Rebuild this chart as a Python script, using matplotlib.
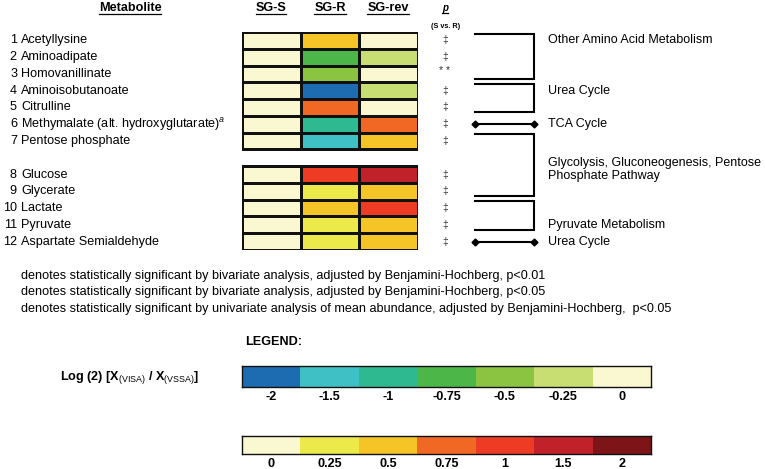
import numpy as np
import matplotlib
matplotlib.use("Agg")
import matplotlib.pyplot as plt
from matplotlib.colors import ListedColormap, BoundaryNorm

plt.rcParams['font.family'] = ['Liberation Sans', 'DejaVu Sans']
plt.rcParams['mathtext.fontset'] = 'custom'
plt.rcParams['mathtext.rm'] = 'Liberation Sans'
plt.rcParams['mathtext.bf'] = 'Liberation Sans:bold'
plt.rcParams['mathtext.it'] = 'Liberation Sans:italic'

# ---- data ----
metabolites = ["Acetyllysine", "Aminoadipate", "Homovanillinate", "Aminoisobutanoate",
               "Citrulline", "Methymalate (alt. hydroxyglutarate)$^{a}$", "Pentose phosphate",
               "Glucose", "Glycerate", "Lactate", "Pyruvate", "Aspartate Semialdehyde"]
columns = ["SG-S", "SG-R", "SG-rev"]
sg_s = [0, 0, 0, 0, 0, 0, 0, 0, 0, 0, 0, 0]
sg_r = [0.5, -0.75, -0.5, -2, 0.75, -1, -1.5, 1, 0.25, 0.5, 0.25, 0.25]
sg_rev = [0, -0.25, 0, -0.25, 0, 0.75, 0.5, 1.5, 0.5, 1, 0.5, 0.5]
p_marks = ["‡", "‡", "**", "‡", "‡", "‡", "‡", "‡", "‡", "‡", "‡", "‡"]
blocks = [(1, 7), (8, 12)]   # metabolites drawn as two separate blocks

pathways = ["Other Amino Acid Metabolism", "Urea Cycle", "TCA Cycle",
            "Glycolysis, Gluconeogenesis, Pentose\nPhosphate Pathway",
            "Pyruvate Metabolism", "Urea Cycle"]
pathway_first = [1, 4, 6, 7, 10, 12]
pathway_last = [3, 5, 6, 9, 11, 12]

levels = [-2, -1.5, -1, -0.75, -0.5, -0.25, 0, 0.25, 0.5, 0.75, 1, 1.5, 2]
level_colors = ["#1d6cb1", "#3ec0c4", "#2eb991", "#4cb648", "#8bc440", "#c8de73",
                "#faf8d0", "#ece94a", "#f5c427", "#f16824", "#ee3b24", "#c12129", "#7d1518"]
neg_levels = [-2, -1.5, -1, -0.75, -0.5, -0.25, 0]
pos_levels = [0, 0.25, 0.5, 0.75, 1, 1.5, 2]

footnotes = [
    "denotes statistically significant by bivariate analysis, adjusted by Benjamini-Hochberg, p<0.01",
    "denotes statistically significant by bivariate analysis, adjusted by Benjamini-Hochberg, p<0.05",
    "denotes statistically significant by univariate analysis of mean abundance, adjusted by Benjamini-Hochberg,  p<0.05",
]

# ---- figure ----
W, H = 765, 469
fig = plt.figure(figsize=(W / 100, H / 100), dpi=100)

def px_axes(x0, y0, x1, y1):
    return fig.add_axes([x0 / W, 1 - y1 / H, (x1 - x0) / W, (y1 - y0) / H])

ax_px = px_axes(0, 0, W, H)
ax_px.set_xlim(0, W)
ax_px.set_ylim(H, 0)
ax_px.axis('off')

cmap = ListedColormap(level_colors)
bounds = [levels[0] - 0.5] + [(a + b) / 2 for a, b in zip(levels[:-1], levels[1:])] + [levels[-1] + 0.5]
norm = BoundaryNorm(bounds, cmap.N)

# row positions, with one empty row between the blocks
n = len(metabolites)
row_pos = [i if i < 7 else i + 1 for i in range(n)]
n_rows = n + 1
values = np.array([sg_s, sg_r, sg_rev], dtype=float).T

heat_top, heat_bot = 32, 250
fs = 9.1
ax_h = px_axes(242, heat_top, 418, heat_bot)
for a, b in blocks:
    y_edges = np.arange(row_pos[a - 1], row_pos[b - 1] + 2)
    ax_h.pcolormesh(np.arange(4), y_edges, values[a - 1:b], cmap=cmap, norm=norm,
                    edgecolors='#111111', linewidth=0.9)
ax_h.set_xlim(0, 3)
ax_h.set_ylim(n_rows, 0)
ax_h.axis('off')

# left labels
ax_l = px_axes(0, heat_top, 242, heat_bot)
ax_l.set_xlim(0, 242)
ax_l.set_ylim(n_rows, 0)
ax_l.axis('off')
for i, name in enumerate(metabolites):
    y = row_pos[i] + 0.5
    ax_l.text(17, y, str(i + 1), ha='right', va='center', fontsize=fs)
    ax_l.text(21, y, name, ha='left', va='center', fontsize=fs)

# right side: p marks and pathway brackets
ax_r = px_axes(420, heat_top, W, heat_bot)
ax_r.set_xlim(420, W)
ax_r.set_ylim(n_rows, 0)
ax_r.axis('off')
for i, m in enumerate(p_marks):
    if m == "**":
        ax_r.text(445, row_pos[i] + 0.35, "* *", ha='center', va='center', fontsize=7.5, color='#333333')
    else:
        ax_r.text(445, row_pos[i] + 0.5, m, ha='center', va='center', fontsize=7.5, color='#333333')

bx0, bx1 = 475, 534
label_pos = [0.5, 3.5, 5.5, 8.2, 11.5, 12.5]
for name, a, b, ly in zip(pathways, pathway_first, pathway_last, label_pos):
    ra, rb = row_pos[a - 1], row_pos[b - 1]
    if a == b:
        yc = ra + 0.5
        ax_r.plot([bx0, bx1], [yc, yc], color='black', lw=1.5,
                  marker='D', markersize=3.5, solid_capstyle='butt')
    else:
        yt, yb = ra + 0.1, rb + 1 - 0.2
        ax_r.plot([bx0, bx1, bx1, bx0], [yt, yt, yb, yb], color='black', lw=1.5,
                  solid_joinstyle='miter')
    ax_r.text(548, ly, name, ha='left', va='center', fontsize=fs - 0.1, linespacing=1.15)

# headers
headers = []
headers.append(ax_px.text(130, 8, "Metabolite", ha='center', va='center', fontsize=fs, fontweight='bold'))
for x, c in zip([271, 330, 388], columns):
    headers.append(ax_px.text(x, 8, c, ha='center', va='center', fontsize=fs, fontweight='bold'))
headers.append(ax_px.text(445, 8, "p", ha='center', va='center', fontsize=7, fontweight='bold', style='italic'))
ax_px.text(446, 26, "(S vs. R)", ha='center', va='center', fontsize=5.2, fontweight='bold')

# footnotes
for k, t in enumerate(footnotes):
    ax_px.text(21, 276 + k * 16.3, t, ha='left', va='center', fontsize=fs)

# legend
ax_px.text(245, 342, "LEGEND:", ha='left', va='center', fontsize=fs, fontweight='bold')
ax_px.text(130, 378, r"Log (2) [X$_{\mathrm{(VISA)}}$ / X$_{\mathrm{(VSSA)}}$]",
           ha='center', va='center', fontsize=fs, fontweight='bold')

for vals, (y0, y1) in [(neg_levels, (366, 387)), (pos_levels, (436, 454))]:
    ax_c = px_axes(242, y0, 651, y1)
    ax_c.pcolormesh(np.array([vals], dtype=float), cmap=cmap, norm=norm)
    ax_c.set_xlim(0, len(vals))
    ax_c.set_ylim(0, 1)
    ax_c.set_yticks([])
    ax_c.set_xticks(np.arange(len(vals)) + 0.5)
    ax_c.set_xticklabels([f"{v:g}" for v in vals], fontsize=fs, fontweight='bold')
    ax_c.tick_params(axis='x', length=0, pad=3)
    for s in ax_c.spines.values():
        s.set_linewidth(1.0)
        s.set_color('#111111')

# underline headers
fig.canvas.draw()
inv = ax_px.transData.inverted()
for t in headers:
    bb = t.get_window_extent()
    (x0, yb), (x1, _) = inv.transform([(bb.x0, bb.y0), (bb.x1, bb.y1)])
    ax_px.plot([x0, x1], [yb + 0.3, yb + 0.3], color='black', lw=0.9)

fig.savefig("out.png", dpi=100)
